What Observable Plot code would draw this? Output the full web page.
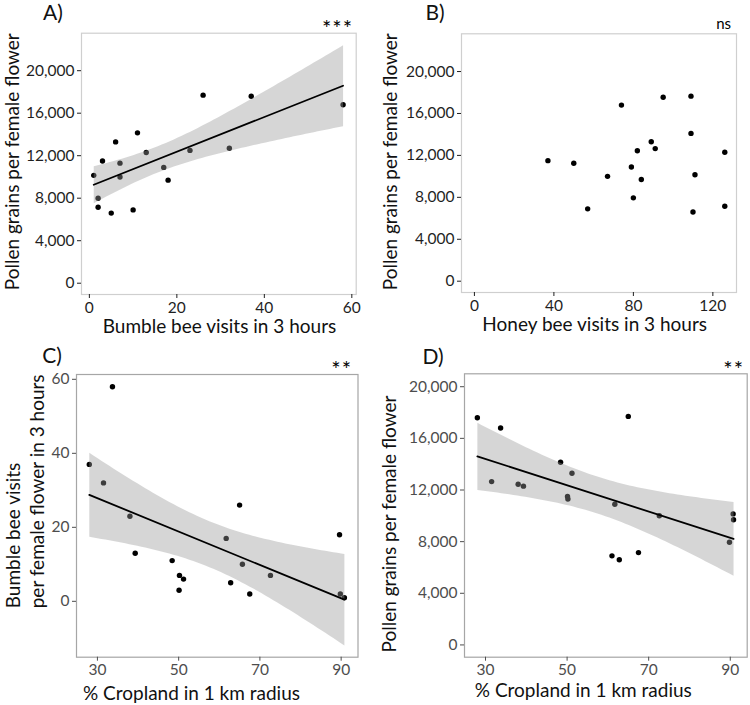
<!DOCTYPE html>
<html><head><meta charset="utf-8">
<script src="https://cdn.jsdelivr.net/npm/d3@7"></script>
<script src="https://cdn.jsdelivr.net/npm/@observablehq/plot@0.6"></script>
<style>
body{margin:0;background:#fff;}
#wrap{position:relative;width:750px;height:705px;font-family:Lato,sans-serif;overflow:hidden;}
.panel{position:absolute;}
</style></head><body><div id="wrap"></div>
<script>
// Panel A: bumble bee visits vs pollen grains
const bumbleA = [1,2,2,3,5,6,7,7,10,11,13,17,18,23,26,32,37,58];
const pollenA = [10150,8000,7150,11500,6600,13300,11300,10000,6900,14150,12300,10900,9700,12500,17700,12700,17600,16800];
// Panel B: honey bee visits vs pollen grains
const honeyB = [37,50,57,67,74,79,80,82,84,89,91,95,109,109,110,111,126,126];
const pollenB = [11500,11250,6900,10000,16800,10900,7950,12450,9700,13300,12650,17550,17650,14100,6600,10150,12300,7150];
// Panel C: % cropland vs bumble bee visits
const cropC = [28,33.7,31.5,38,39.3,48.4,50.2,51.2,50.1,61.7,65,62.8,65.7,67.5,72.6,89.6,89.8,90.8];
const bumbleC = [37,58,32,23,13,11,7,6,3,17,26,5,10,2,7,18,2,1];
// Panel D: % cropland vs pollen grains
const cropD = [28,33.7,31.5,38,39.3,48.4,50.1,50.2,51.2,61,61.7,62.8,65,67.5,72.6,89.8,90.7,90.8];
const pollenD = [17600,16800,12650,12450,12300,14150,11500,11300,13300,6900,10900,6600,17700,7150,10000,7950,10150,9700];
// tick labels
const pollenTicks = [0,4000,8000,12000,16000,20000];
const bumbleTicks = [0,20,40,60];
const honeyTicks = [0,40,80,120];
const cropTicks = [30,50,70,90];
const visitTicks = [0,20,40,60];

const wrap = document.getElementById("wrap");

function panel(cfg) {
  const data = cfg.xs.map((x, i) => ({x, y: cfg.ys[i]}));
  const marks = [
    Plot.dot(data, {x: "x", y: "y", r: 2.7, fill: "black"})
  ];
  if (cfg.fit) marks.push(Plot.linearRegressionY(data, {x: "x", y: "y", stroke: "black", strokeWidth: 1.8, fill: "#999999", fillOpacity: 0.4}));
  marks.push(
    Plot.frame({stroke: cfg.frameColor, strokeWidth: 1.2}),
    Plot.axisX({ticks: cfg.xTicks, tickSize: 4, tickPadding: 3, label: null, fontSize: 15.5}),
    Plot.axisY({ticks: cfg.yTicks, tickFormat: cfg.yFormat, tickSize: 4, tickPadding: 3, label: null, fontSize: 15.5})
  );
  const svg = Plot.plot({
    width: cfg.w, height: cfg.h,
    marginLeft: cfg.m[0], marginRight: cfg.m[1], marginTop: cfg.m[2], marginBottom: cfg.m[3],
    x: {domain: cfg.xDomain},
    y: {domain: cfg.yDomain},
    style: {fontFamily: "Lato, sans-serif", fontSize: "15.5px", color: cfg.tickColor, background: "transparent", overflow: "visible"},
    marks
  });
  const div = document.createElement("div");
  div.className = "panel";
  div.style.left = cfg.left + "px";
  div.style.top = cfg.top + "px";
  div.appendChild(svg);
  wrap.appendChild(div);
  const s = d3.select(svg);
  s.append("text").attr("x", cfg.letter[1]).attr("y", cfg.letter[2]).attr("font-size", 21).attr("fill", "#111").text(cfg.letter[0]);
  s.append("text").attr("x", cfg.sig[1]).attr("y", cfg.sig[2]).attr("font-size", cfg.sig[3]).attr("text-anchor", "end").attr("letter-spacing", cfg.sig[4]).attr("fill", "#000").text(cfg.sig[0]);
  s.append("text").attr("x", cfg.xt[1]).attr("y", cfg.xt[2]).attr("font-size", 19).attr("text-anchor", "middle").attr("fill", "#111").text(cfg.xt[0]);
  const yt = s.append("text").attr("transform", `translate(${cfg.yt[1]},${cfg.yt[2]}) rotate(-90)`).attr("font-size", 19).attr("fill", "#111").attr("text-anchor", cfg.yt[3]);
  cfg.yt[0].forEach((line, i) => yt.append("tspan").attr("x", 0).attr("y", i * (cfg.yt[4] || 0)).text(line));
}

const fmt = d3.format(",");

panel({left: 0, top: 0, w: 375, h: 350, m: [81, 19.3, 32.7, 56],
  xs: bumbleA, ys: pollenA, fit: true,
  xDomain: [-1.8, 61], yDomain: [-1063, 23529], xTicks: bumbleTicks, yTicks: pollenTicks, yFormat: fmt,
  frameColor: "#cfcfcf", tickColor: "#1f1f1f",
  letter: ["A)", 53, 20], sig: ["***", 353, 36, 22, 1],
  xt: ["Bumble bee visits in 3 hours", 219.5, 333],
  yt: [["Pollen grains per female flower"], 18.5, 161.7, "middle"]});

panel({left: 375, top: 0, w: 375, h: 350, m: [86, 14, 33.3, 58],
  xs: honeyB, ys: pollenB, fit: false,
  xDomain: [-6.5, 131.9], yDomain: [-1078, 23600], xTicks: honeyTicks, yTicks: pollenTicks, yFormat: fmt,
  frameColor: "#cfcfcf", tickColor: "#1f1f1f",
  letter: ["B)", 60, 20], sig: ["ns", 356, 29, 15, 0],
  xt: ["Honey bee visits in 3 hours", 219.7, 331],
  yt: [["Pollen grains per female flower"], 22, 161.7, "middle"]});

panel({left: 0, top: 350, w: 375, h: 355, m: [76, 17.5, 24, 48.3],
  xs: cropC, ys: bumbleC, fit: true,
  xDomain: [24.85, 94.15], yDomain: [-15.1, 61.3], xTicks: cropTicks, yTicks: visitTicks, yFormat: null,
  frameColor: "#a6a6a6", tickColor: "#4d4d4d",
  letter: ["C)", 52, 13], sig: ["**", 352, 27, 22, 1],
  xt: ["% Cropland in 1 km radius", 191.5, 350],
  yt: [["Bumble bee visits", "per female flower in 3 hours"], 20, 258.3, "start", 24]});

panel({left: 375, top: 350, w: 375, h: 355, m: [89, 3.3, 23.3, 48.3],
  xs: cropD, ys: pollenD, fit: true,
  xDomain: [24.85, 94.15], yDomain: [-950, 21000], xTicks: cropTicks, yTicks: pollenTicks, yFormat: fmt,
  frameColor: "#a6a6a6", tickColor: "#4d4d4d",
  letter: ["D)", 58, 14], sig: ["**", 369, 27, 22, 1],
  xt: ["% Cropland in 1 km radius", 208.3, 347.3],
  yt: [["Pollen grains per female flower"], 21, 174, "middle"]});
</script>
</body></html>
